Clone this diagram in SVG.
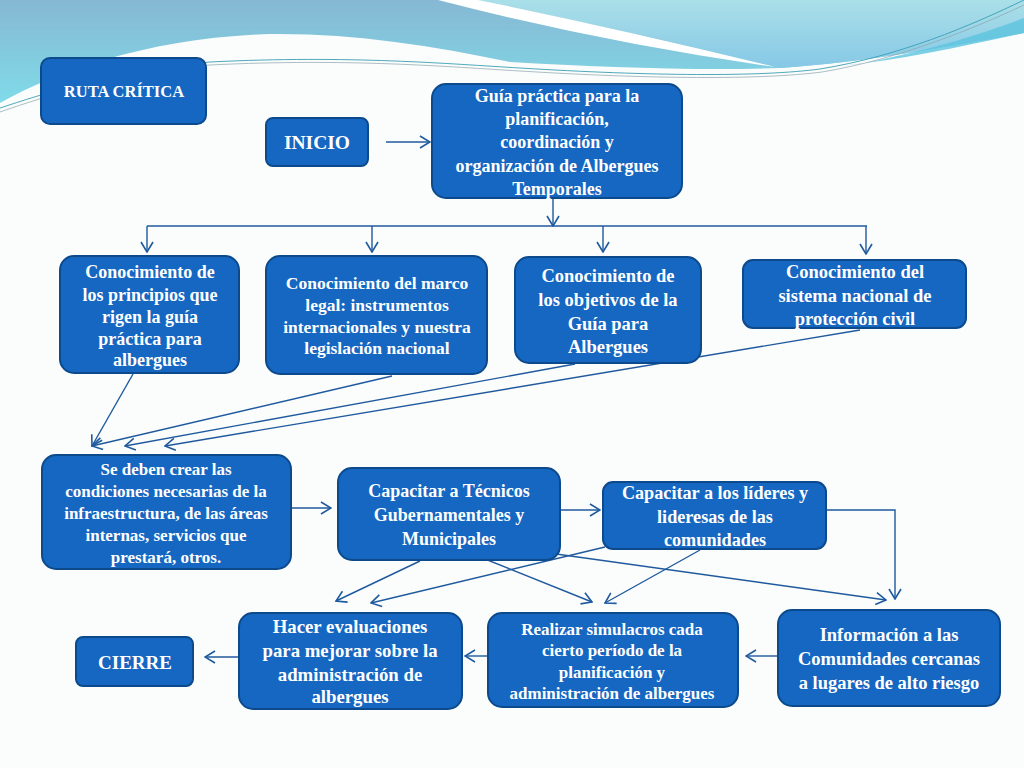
<svg xmlns="http://www.w3.org/2000/svg" width="1024" height="768" viewBox="0 0 1024 768">
<defs>
<linearGradient id="gL" x1="0" y1="0" x2="0" y2="1">
<stop offset="0" stop-color="#86b8d3"/>
<stop offset="1" stop-color="#80dbe9"/>
</linearGradient>
<linearGradient id="gR" x1="0" y1="0" x2="0" y2="1">
<stop offset="0" stop-color="#aadfe8"/>
<stop offset="1" stop-color="#86c8e6"/>
</linearGradient>
<marker id="a" viewBox="0 0 12 14" refX="11" refY="7" markerWidth="12" markerHeight="14" orient="auto" markerUnits="userSpaceOnUse">
<path d="M1,1 L11,7 L1,13" fill="none" stroke="#1f5a9e" stroke-width="1.6"/>
</marker>
<style>
.b{fill:#1567c2;stroke:#0c4a8c;stroke-width:2}
.t{font-family:"Liberation Serif","DejaVu Serif",serif;font-weight:bold;fill:#ffffff;text-anchor:middle}
.c{fill:none;stroke:#1f5a9e;stroke-width:1.4}
</style>
</defs>
<rect width="1024" height="768" fill="#fbfcfc"/>
<g id="background">
<path d="M0,0 H1024 V33 C 950,46 870,62 780,68 C 700,71 600,67 510,62 C 430,45 350,33 270,34 C 150,38 60,70 0,103 Z" fill="url(#gL)"/>
<path d="M470,0 H1024 V33 C 950,46 870,62 780,68 C 740,58 620,28 470,0 Z" fill="url(#gR)"/>
<path d="M860,64 C 930,50 980,35 1024,18 V33 C 960,47 900,60 840,66 Z" fill="#5cc4de" opacity="0.8"/>
<path d="M438,0 L478,0 Q 625,30 775,67 Q 600,42 438,0 Z" fill="#ffffff"/>
<path d="M0,108 C 40,95 120,68 210,62 C 350,55 450,64 520,68 C 650,76 760,77 820,69 C 900,56 970,26 1024,0" fill="none" stroke="#3a9fb3" stroke-width="0.9"/>
<path d="M0,112 C 40,98 120,72 210,65 C 350,58 450,67 520,71 C 650,79 760,80 822,72 C 900,59 975,28 1024,5" fill="none" stroke="#8aa4ac" stroke-width="0.7"/>
</g>
<g id="connectors">
<path class="c" d="M386,142 L430,142" marker-end="url(#a)"/>
<path class="c" d="M553,198 L553,226" marker-end="url(#a)"/>
<path class="c" d="M147,226 L867,226"/>
<path class="c" d="M147,226 L147,252" marker-end="url(#a)"/>
<path class="c" d="M372,226 L372,252" marker-end="url(#a)"/>
<path class="c" d="M603,226 L603,252" marker-end="url(#a)"/>
<path class="c" d="M866,226 L866,254" marker-end="url(#a)"/>
<path class="c" d="M133,374 L92,446" marker-end="url(#a)"/>
<path class="c" d="M392,376 L92,446" marker-end="url(#a)"/>
<path class="c" d="M575,364 L125,446" marker-end="url(#a)"/>
<path class="c" d="M860,330 L165,446" marker-end="url(#a)"/>
<path class="c" d="M292,508 L331,508" marker-end="url(#a)"/>
<path class="c" d="M553,510 L600,510" marker-end="url(#a)"/>
<path class="c" d="M826,510 L895,510 L895,599" marker-end="url(#a)"/>
<path class="c" d="M420,561 L336,601" marker-end="url(#a)"/>
<path class="c" d="M605,547 L371,603" marker-end="url(#a)"/>
<path class="c" d="M470,553 L592,602" marker-end="url(#a)"/>
<path class="c" d="M700,550 L605,603" marker-end="url(#a)"/>
<path class="c" d="M549,553 L886,600" marker-end="url(#a)"/>
<path class="c" d="M778,656 L746,656" marker-end="url(#a)"/>
<path class="c" d="M488,656 L465,656" marker-end="url(#a)"/>
<path class="c" d="M238,657 L205,657" marker-end="url(#a)"/>
</g>
<g id="ruta">
<rect class="b" x="41" y="58" width="165" height="66" rx="9"/>
<text class="t" x="124" y="97" font-size="16.5">RUTA CRÍTICA</text>
</g>
<g id="inicio">
<rect class="b" x="266" y="118" width="102" height="48" rx="7"/>
<text class="t" x="317" y="149" font-size="19.5">INICIO</text>
</g>
<g id="guia">
<rect class="b" x="432" y="84" width="250" height="114" rx="14"/>
<text class="t" font-size="18"><tspan x="557" y="102">Guía práctica para la</tspan><tspan x="557" y="125">planificación,</tspan><tspan x="557" y="148">coordinación y</tspan><tspan x="557" y="172">organización de Albergues</tspan><tspan x="557" y="195">Temporales</tspan></text>
</g>
<g id="principios">
<rect class="b" x="60" y="256" width="179" height="117" rx="14"/>
<text class="t" font-size="18"><tspan x="150" y="278">Conocimiento de</tspan><tspan x="150" y="301">los principios que</tspan><tspan x="150" y="323">rigen la guía</tspan><tspan x="150" y="345">práctica para</tspan><tspan x="150" y="366">albergues</tspan></text>
</g>
<g id="marco">
<rect class="b" x="266" y="256" width="221" height="118" rx="14"/>
<text class="t" font-size="17.5"><tspan x="377" y="289">Conocimiento del marco</tspan><tspan x="377" y="311">legal: instrumentos</tspan><tspan x="377" y="333">internacionales y nuestra</tspan><tspan x="377" y="354">legislación nacional</tspan></text>
</g>
<g id="objetivos">
<rect class="b" x="515" y="257" width="186" height="106" rx="14"/>
<text class="t" font-size="18.5"><tspan x="608" y="282">Conocimiento de</tspan><tspan x="608" y="306">los objetivos de la</tspan><tspan x="608" y="330">Guía para</tspan><tspan x="608" y="353">Albergues</tspan></text>
</g>
<g id="sistema">
<rect class="b" x="743" y="260" width="223" height="68" rx="10"/>
<text class="t" font-size="18.5"><tspan x="855" y="278">Conocimiento del</tspan><tspan x="855" y="302">sistema nacional de</tspan><tspan x="855" y="325">protección civil</tspan></text>
</g>
<g id="crear">
<rect class="b" x="42" y="455" width="249" height="114" rx="14"/>
<text class="t" font-size="17"><tspan x="166" y="475">Se deben crear las</tspan><tspan x="166" y="497">condiciones necesarias de la</tspan><tspan x="166" y="519">infraestructura, de las áreas</tspan><tspan x="166" y="541">internas, servicios que</tspan><tspan x="166" y="563">prestará, otros.</tspan></text>
</g>
<g id="tecnicos">
<rect class="b" x="338" y="468" width="222" height="92" rx="14"/>
<text class="t" font-size="18"><tspan x="449" y="497">Capacitar a Técnicos</tspan><tspan x="449" y="521">Gubernamentales y</tspan><tspan x="449" y="545">Municipales</tspan></text>
</g>
<g id="lideres">
<rect class="b" x="603" y="482" width="223" height="67" rx="10"/>
<text class="t" font-size="18.2"><tspan x="715" y="499">Capacitar a los líderes y</tspan><tspan x="715" y="523">lideresas de las</tspan><tspan x="715" y="546">comunidades</tspan></text>
</g>
<g id="evaluaciones">
<rect class="b" x="239" y="613" width="223" height="96" rx="14"/>
<text class="t" font-size="18.8"><tspan x="350" y="633">Hacer evaluaciones</tspan><tspan x="350" y="657">para mejorar sobre la</tspan><tspan x="350" y="681">administración de</tspan><tspan x="350" y="703">albergues</tspan></text>
</g>
<g id="simulacros">
<rect class="b" x="488" y="613" width="250" height="94" rx="14"/>
<text class="t" font-size="17"><tspan x="612" y="635">Realizar simulacros cada</tspan><tspan x="612" y="656">cierto período de la</tspan><tspan x="612" y="678">planificación y</tspan><tspan x="612" y="699">administración de albergues</tspan></text>
</g>
<g id="informacion">
<rect class="b" x="778" y="610" width="222" height="96" rx="14"/>
<text class="t" font-size="18.5"><tspan x="889" y="641">Información a las</tspan><tspan x="889" y="665">Comunidades cercanas</tspan><tspan x="889" y="689">a lugares de alto riesgo</tspan></text>
</g>
<g id="cierre">
<rect class="b" x="76" y="637" width="117" height="49" rx="7"/>
<text class="t" x="135" y="669" font-size="19">CIERRE</text>
</g>
</svg>
